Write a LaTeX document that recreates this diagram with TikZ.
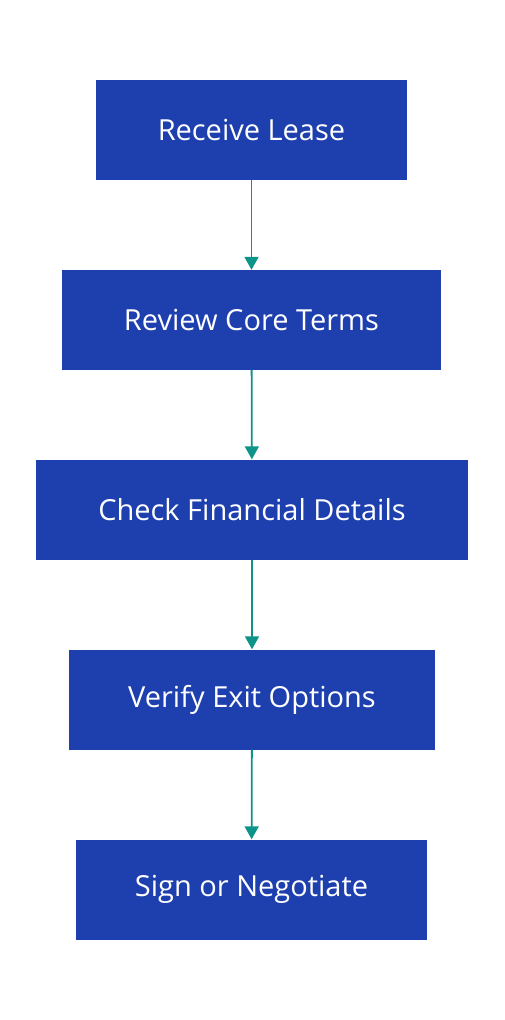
\documentclass[tikz,border=0pt]{standalone}
\usepackage{fontspec}
\setmainfont{Open Sans}
\usetikzlibrary{arrows.meta}

\definecolor{boxblue}{HTML}{1E40AF}
\definecolor{flowteal}{HTML}{0D9488}

\begin{document}
\begin{tikzpicture}[x=1pt, y=-1pt,
  stepbox/.style={fill=boxblue, text=white, font=\fontsize{29}{34}\selectfont,
    minimum height=100pt, inner sep=0pt},
  flow/.style={draw=flowteal, line width=1.8pt,
    -{Triangle[length=13pt, width=14pt]}}]
  \useasboundingbox (0,0) rectangle (504,1020);
  \node[stepbox, minimum width=311pt] (receive) at (251.5,130) {Receive Lease};
  \node[stepbox, minimum width=379pt] (review) at (251.5,320) {Review Core Terms};
  \node[stepbox, minimum width=432pt] (check) at (252,509.5) {Check Financial Details};
  \node[stepbox, minimum width=366pt] (verify) at (252,699.5) {Verify Exit Options};
  \node[stepbox, minimum width=351pt] (sign) at (251.5,889.5) {Sign or Negotiate};
  \foreach \a/\b in {receive/review, review/check, check/verify, verify/sign}
    \draw[flow] (\a) -- (\b);
\end{tikzpicture}
\end{document}
